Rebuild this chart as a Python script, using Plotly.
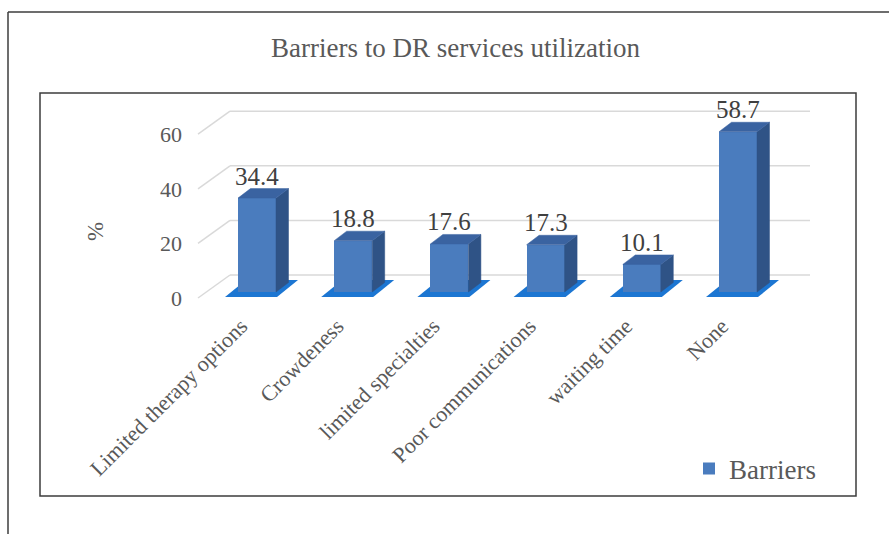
import plotly.graph_objects as go

# ---- data ----
categories = ["Limited therapy options", "Crowdeness", "limited specialties",
              "Poor communications", "waiting time", "None"]
barriers = [34.4, 18.8, 17.6, 17.3, 10.1, 58.7]
y_ticks = [0, 20, 40, 60]
series_name = "Barriers"
title_text = "Barriers to DR services utilization"
y_title = "%"

# ---- canvas / projection geometry ----
W, H = 889, 534
X0_PX, X_STEP_PX = 257.0, 96.2      # pixel centre of first bar, spacing between bars
Y0_PX, Y_UNIT_PX = 292.0, 2.73      # pixel of value 0 on the front plane, pixels per unit


def px_to_x(px):
    return (px - X0_PX) / X_STEP_PX


def py_to_v(py):
    return (Y0_PX - py) / Y_UNIT_PX


X_RANGE = [px_to_x(0), px_to_x(W)]
Y_RANGE = [py_to_v(H), py_to_v(0)]

BAR_W = 38 / X_STEP_PX               # front face width
DX, DY = 12.5 / X_STEP_PX, 9.5 / Y_UNIT_PX   # bar depth projection
WALL_DY = 17 / Y_UNIT_PX             # back wall lift
TICK_SHIFT = 6 / Y_UNIT_PX           # tick labels sit on the front edge of the floor

FRONT = "#4A7CBE"
SIDE = "#2F5386"
TOP = "#3A63A1"
FLOOR = "#1C76D2"
GRID = "#D9D9D9"
TEXT = "#595959"
FONT = "Liberation Serif, Times New Roman, serif"

xs = list(range(len(categories)))

fig = go.Figure()

# front faces of the bars
fig.add_trace(go.Bar(
    x=xs, y=barriers, width=BAR_W, name=series_name,
    marker=dict(color=FRONT, line=dict(width=0)),
    showlegend=True,
))

# side and top faces
for x, v in zip(xs, barriers):
    xl, xr = x - BAR_W / 2, x + BAR_W / 2
    fig.add_trace(go.Scatter(
        x=[xr, xr, xr + DX, xr + DX, xr], y=[0, v, v + DY, DY, 0],
        mode="lines", fill="toself", fillcolor=SIDE,
        line=dict(color=SIDE, width=0.5), hoverinfo="skip", showlegend=False,
    ))
    fig.add_trace(go.Scatter(
        x=[xl, xr, xr + DX, xl + DX, xl], y=[v, v, v + DY, v + DY, v],
        mode="lines", fill="toself", fillcolor=TOP,
        line=dict(color=TOP, width=0.5), hoverinfo="skip", showlegend=False,
    ))

shapes = []

# back wall gridlines and side wall stubs
gx0, gx1 = px_to_x(230), px_to_x(810)
sx0 = px_to_x(198)
for t in y_ticks:
    shapes.append(dict(type="line", xref="x", yref="y", layer="below",
                       x0=gx0, x1=gx1, y0=t + WALL_DY, y1=t + WALL_DY,
                       line=dict(color=GRID, width=1.5)))
    shapes.append(dict(type="line", xref="x", yref="y", layer="below",
                       x0=sx0, x1=gx0, y0=t - TICK_SHIFT, y1=t + WALL_DY,
                       line=dict(color=GRID, width=1.5)))

# floor footprint under each bar
fl_front, fl_back = py_to_v(297), py_to_v(280)
for x in xs:
    a, b = x + px_to_x(225) - px_to_x(257), x + px_to_x(277) - px_to_x(257)
    c, d = x + px_to_x(298) - px_to_x(257), x + px_to_x(246) - px_to_x(257)
    path = (f"M {a},{fl_front} L {b},{fl_front} L {c},{fl_back} "
            f"L {d},{fl_back} Z")
    shapes.append(dict(type="path", xref="x", yref="y", layer="below",
                       path=path, fillcolor=FLOOR, line=dict(width=0)))

# plot-area frame and outer chart frame
shapes.append(dict(type="rect", xref="paper", yref="paper",
                   x0=40 / W, x1=856 / W, y0=1 - 496 / H, y1=1 - 93 / H,
                   line=dict(color="#3C3C3C", width=1.5)))
shapes.append(dict(type="line", xref="paper", yref="paper",
                   x0=8 / W, x1=1.02, y0=1 - 12 / H, y1=1 - 12 / H,
                   line=dict(color="#3C3C3C", width=1.5)))
shapes.append(dict(type="line", xref="paper", yref="paper",
                   x0=8 / W, x1=8 / W, y0=1 - 12 / H, y1=-0.02,
                   line=dict(color="#3C3C3C", width=1.5)))

# value labels above the bars
annotations = []
for x, v in zip(xs, barriers):
    annotations.append(dict(
        x=x, y=v + DY, xref="x", yref="y", text=f"{v}",
        showarrow=False, yanchor="bottom", yshift=-3,
        font=dict(family=FONT, size=25, color="#404040"),
    ))

annotations.append(dict(
    x=96 / W, y=1 - 232 / H, xref="paper", yref="paper", text=y_title,
    textangle=-90, showarrow=False, xanchor="center", yanchor="middle",
    font=dict(family=FONT, size=23, color=TEXT),
))
annotations.append(dict(
    x=456 / W, y=1 - 48 / H, xref="paper", yref="paper", text=title_text,
    showarrow=False, xanchor="center", yanchor="middle",
    font=dict(family=FONT, size=27, color=TEXT),
))

# invisible helper trace for the tick-label axis
fig.add_trace(go.Scatter(x=[None], y=[None], yaxis="y2", showlegend=False,
                         hoverinfo="skip"))

fig.update_layout(
    width=W, height=H,
    margin=dict(l=0, r=0, t=0, b=0, pad=0),
    paper_bgcolor="white", plot_bgcolor="rgba(0,0,0,0)",
    xaxis=dict(range=X_RANGE, tickvals=xs, ticktext=categories,
               tickangle=-45, showgrid=False, zeroline=False, showline=False,
               ticks="", anchor="free", position=1 - 308 / H,
               ticklabelshift=-16,
               tickfont=dict(family=FONT, size=22, color=TEXT)),
    yaxis=dict(range=Y_RANGE, visible=False, showgrid=False, zeroline=False),
    yaxis2=dict(range=[Y_RANGE[0] + TICK_SHIFT, Y_RANGE[1] + TICK_SHIFT],
                overlaying="y", anchor="free", position=182 / W, side="left",
                tickvals=y_ticks, showgrid=False, zeroline=False,
                showline=False, ticks="",
                tickfont=dict(family=FONT, size=22, color=TEXT)),
    shapes=shapes,
    annotations=annotations,
    showlegend=True,
    legend=dict(x=689 / W, y=1 - 469 / H, xanchor="left", yanchor="middle",
                bgcolor="rgba(0,0,0,0)",
                font=dict(family=FONT, size=27, color=TEXT)),
    bargap=0,
)

fig.write_html("out.html")
